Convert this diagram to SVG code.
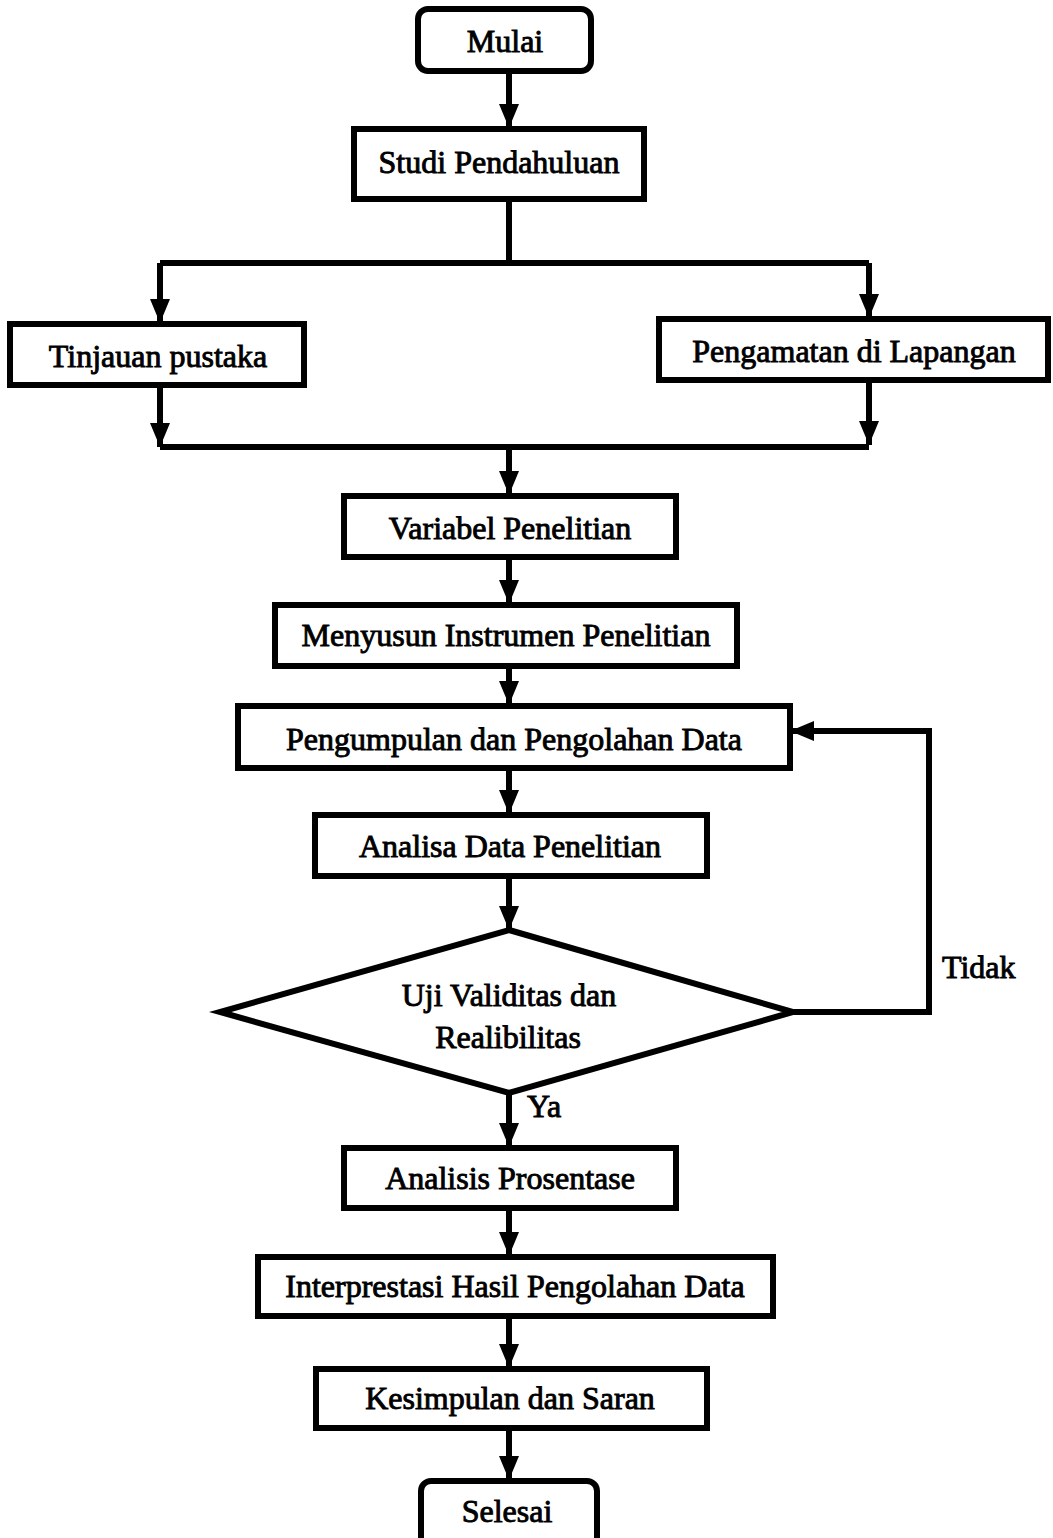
<svg xmlns="http://www.w3.org/2000/svg" width="1053" height="1538" viewBox="0 0 1053 1538">
<style>
.box{fill:#fff;stroke:#000;stroke-width:6}
.ln{fill:none;stroke:#000;stroke-width:6;stroke-linejoin:miter}
.ar{marker-end:url(#ah)}
text{font-family:"Liberation Serif","Times New Roman",serif;font-size:32px;fill:#000;stroke:#000;stroke-width:0.9}
.c{text-anchor:middle}
</style>
<defs>
<marker id="ah" markerUnits="userSpaceOnUse" markerWidth="24" markerHeight="24" viewBox="0 0 24 24" refX="24" refY="12" orient="auto">
<path d="M0,2 L24,12 L0,22 Z" fill="#000"/>
</marker>
</defs>
<rect width="1053" height="1538" fill="#fff"/>
<g id="connectors">
<path class="ln ar" d="M509,72 V128"/>
<path class="ln" d="M509,200 V263"/>
<path class="ln" d="M160,263 H869"/>
<path class="ln ar" d="M160,263 V323"/>
<path class="ln ar" d="M869,263 V318"/>
<path class="ln ar" d="M160,385 V447"/>
<path class="ln ar" d="M869,380 V445"/>
<path class="ln" d="M160,447 H869"/>
<path class="ln ar" d="M509,447 V495"/>
<path class="ln ar" d="M509,557 V604"/>
<path class="ln ar" d="M509,666 V705"/>
<path class="ln ar" d="M509,768 V814"/>
<path class="ln ar" d="M509,876 V930"/>
<path class="ln ar" d="M793,1012 H929 V731 H790"/>
<path class="ln ar" d="M509,1093 V1147"/>
<path class="ln ar" d="M509,1208 V1256"/>
<path class="ln ar" d="M509,1316 V1368"/>
<path class="ln ar" d="M509,1428 V1480"/>
</g>
<g id="mulai"><rect class="box" x="418" y="9" width="173" height="62" rx="10"/><text class="c" x="505" y="52">Mulai</text></g>
<g id="studi"><rect class="box" x="354" y="129" width="290" height="70"/><text class="c" x="499" y="173">Studi Pendahuluan</text></g>
<g id="tinjauan"><rect class="box" x="10" y="324" width="294" height="61"/><text class="c" x="158" y="367">Tinjauan pustaka</text></g>
<g id="pengamatan"><rect class="box" x="659" y="319" width="389" height="61"/><text class="c" x="854" y="362">Pengamatan di Lapangan</text></g>
<g id="variabel"><rect class="box" x="344" y="496" width="332" height="61"/><text class="c" x="510" y="539">Variabel Penelitian</text></g>
<g id="menyusun"><rect class="box" x="275" y="605" width="462" height="61"/><text class="c" x="506" y="646">Menyusun Instrumen Penelitian</text></g>
<g id="pengumpulan"><rect class="box" x="238" y="706" width="552" height="62"/><text class="c" x="514" y="750">Pengumpulan dan Pengolahan Data</text></g>
<g id="analisa"><rect class="box" x="315" y="815" width="392" height="61"/><text class="c" x="510" y="857">Analisa Data Penelitian</text></g>
<g id="uji"><polygon class="box" points="509,930 793,1012 509,1093 220,1012"/><text class="c" x="509" y="1006">Uji Validitas dan</text><text class="c" x="508" y="1048">Realibilitas</text></g>
<text x="527" y="1117">Ya</text>
<text x="942" y="978">Tidak</text>
<g id="analisis"><rect class="box" x="344" y="1148" width="332" height="60"/><text class="c" x="510" y="1189">Analisis Prosentase</text></g>
<g id="interprestasi"><rect class="box" x="258" y="1257" width="515" height="59"/><text class="c" x="515" y="1297">Interprestasi Hasil Pengolahan Data</text></g>
<g id="kesimpulan"><rect class="box" x="316" y="1369" width="391" height="59"/><text class="c" x="510" y="1409">Kesimpulan dan Saran</text></g>
<g id="selesai"><rect class="box" x="421" y="1481" width="176" height="70" rx="10"/><text class="c" x="507" y="1522">Selesai</text></g>
</svg>
